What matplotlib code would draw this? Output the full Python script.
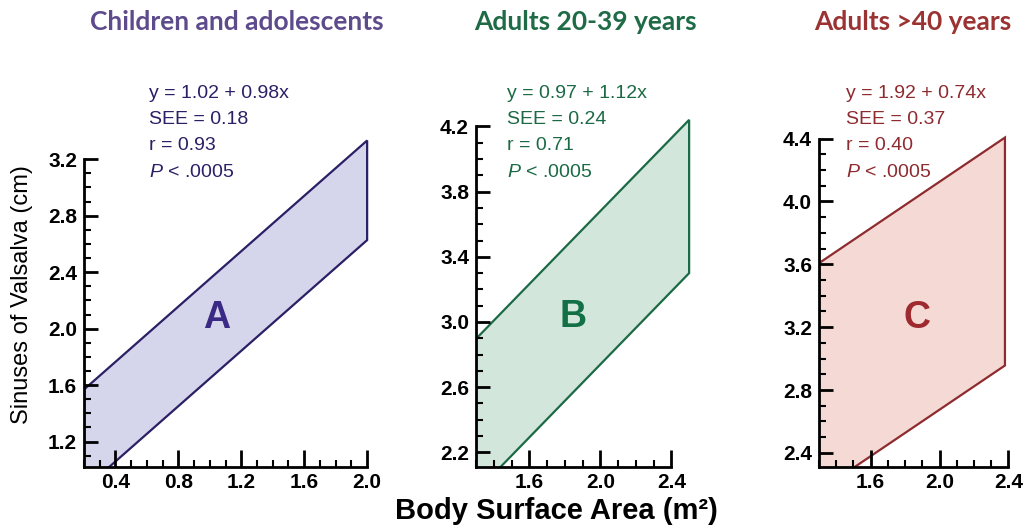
import numpy as np
import matplotlib.pyplot as plt
from matplotlib.ticker import FixedLocator

plt.rcParams["mathtext.fontset"] = "custom"
plt.rcParams["mathtext.rm"] = "Liberation Sans"
plt.rcParams["mathtext.it"] = "Liberation Sans:italic"

# Regression of sinus of Valsalva diameter on body surface area, by age group
titles = ["Children and adolescents", "Adults 20-39 years", "Adults >40 years"]
letters = ["A", "B", "C"]
intercepts = [1.02, 0.97, 1.92]
slopes = [0.98, 1.12, 0.74]
see = [0.18, 0.24, 0.37]
r_values = [0.93, 0.71, 0.40]
p_text = ".0005"
bsa_min = [0.2, 1.3, 1.3]
bsa_max = [2.0, 2.5, 2.38]

# axis layout per panel (pixels from the top-left of a 1031x531 canvas)
W, H = 1031, 531
boxes = [(84, 131, 375, 467), (476, 102, 698, 467), (819, 115, 1017, 467)]
xlims = [(0.2, 2.05), (1.3, 2.55), (1.3, 2.45)]
ylims = [(1.02, 3.4), (2.11, 4.35), (2.31, 4.55)]
xticks = [[0.4, 0.8, 1.2, 1.6, 2.0], [1.6, 2.0, 2.4], [1.6, 2.0, 2.4]]
yticks = [[1.2, 1.6, 2.0, 2.4, 2.8, 3.2], [2.2, 2.6, 3.0, 3.4, 3.8, 4.2],
          [2.4, 2.8, 3.2, 3.6, 4.0, 4.4]]
title_x = [237, 585, 913]
note_x = [149, 507, 846]
letter_xy = [(217, 318), (573, 317), (917, 318)]

title_colors = ["#5E4B8C", "#1E6B46", "#9B3333"]
edge_colors = ["#2B1F66", "#1B6A45", "#8E2B2F"]
fill_colors = ["#D5D5EB", "#D3E6DB", "#F5D9D5"]
letter_colors = ["#3B2A85", "#137046", "#9E2A30"]


def minor_ticks(lo, hi):
    # tenths between the axis start and the last labelled tick
    start = np.ceil(lo * 10 - 1e-6) / 10
    return np.arange(start, hi + 1e-6, 0.1)


fig = plt.figure(figsize=(W / 100, H / 100), dpi=100)

for i in range(3):
    l, t, r, b = boxes[i]
    ax = fig.add_axes([l / W, 1 - b / H, (r - l) / W, (b - t) / H])
    ax.set_facecolor("none")

    # 95% band: fitted line +/- 1.96 SEE
    xs = np.array([bsa_min[i], bsa_max[i]])
    fit = intercepts[i] + slopes[i] * xs
    half = 1.96 * see[i]
    px = [xs[0], xs[1], xs[1], xs[0]]
    py = [fit[0] + half, fit[1] + half, fit[1] - half, fit[0] - half]
    ax.fill(px, py, facecolor=fill_colors[i], edgecolor=edge_colors[i],
            linewidth=1.6, joinstyle="miter", zorder=1)

    ax.set_xlim(*xlims[i])
    ax.set_ylim(*ylims[i])
    for s in ["top", "right"]:
        ax.spines[s].set_visible(False)
    ax.spines["left"].set_bounds(ylims[i][0], yticks[i][-1])
    ax.spines["bottom"].set_bounds(xlims[i][0], xticks[i][-1])
    for s in ["left", "bottom"]:
        ax.spines[s].set_linewidth(2)
        ax.spines[s].set_zorder(3)

    ax.set_xticks(xticks[i])
    ax.set_yticks(yticks[i])
    ax.xaxis.set_minor_locator(FixedLocator(minor_ticks(xlims[i][0], xticks[i][-1])))
    ax.yaxis.set_minor_locator(FixedLocator(minor_ticks(ylims[i][0], yticks[i][-1])))
    ax.set_xticklabels([f"{v:.1f}" for v in xticks[i]])
    ax.set_yticklabels([f"{v:.1f}" for v in yticks[i]])
    ax.tick_params(axis="y", which="major", direction="in", length=10, width=2,
                   labelsize=15, pad=5)
    ax.tick_params(axis="x", which="major", direction="in", length=12, width=2,
                   labelsize=15, pad=4)
    ax.tick_params(which="minor", direction="in", length=5, width=1.5)
    for lab in ax.get_xticklabels() + ax.get_yticklabels():
        lab.set_fontweight("bold")
        lab.set_fontfamily("Liberation Sans")

    # big panel letter
    lx, ly = letter_xy[i]
    fig.text(lx / W, 1 - ly / H, letters[i], ha="center", va="center",
             fontsize=27, fontweight="bold", color=letter_colors[i],
             family="Liberation Sans")

    # regression statistics
    lines = [f"y = {intercepts[i]:.2f} + {slopes[i]:.2f}x",
             f"SEE = {see[i]:.2f}",
             f"r = {r_values[i]:.2f}",
             f"$P$ < {p_text}"]
    for k, txt in enumerate(lines):
        fig.text(note_x[i] / W, 1 - (93 + 26.5 * k) / H, txt, ha="left",
                 va="center", fontsize=14, color=edge_colors[i],
                 family="Liberation Sans")

    fig.text(title_x[i] / W, 1 - 22 / H, titles[i], ha="center", va="center",
             fontsize=19, fontweight="bold", color=title_colors[i],
             family=["Lato", "DejaVu Sans"])

fig.text(22 / W, 1 - 295 / H, "Sinuses of Valsalva (cm)", rotation=90,
         ha="center", va="center", fontsize=17, family="Liberation Sans")
fig.text(556 / W, 1 - 511 / H, "Body Surface Area (m²)", ha="center",
         va="center", fontsize=21, fontweight="bold", family="Liberation Sans")

fig.savefig("out.png", dpi=100)
